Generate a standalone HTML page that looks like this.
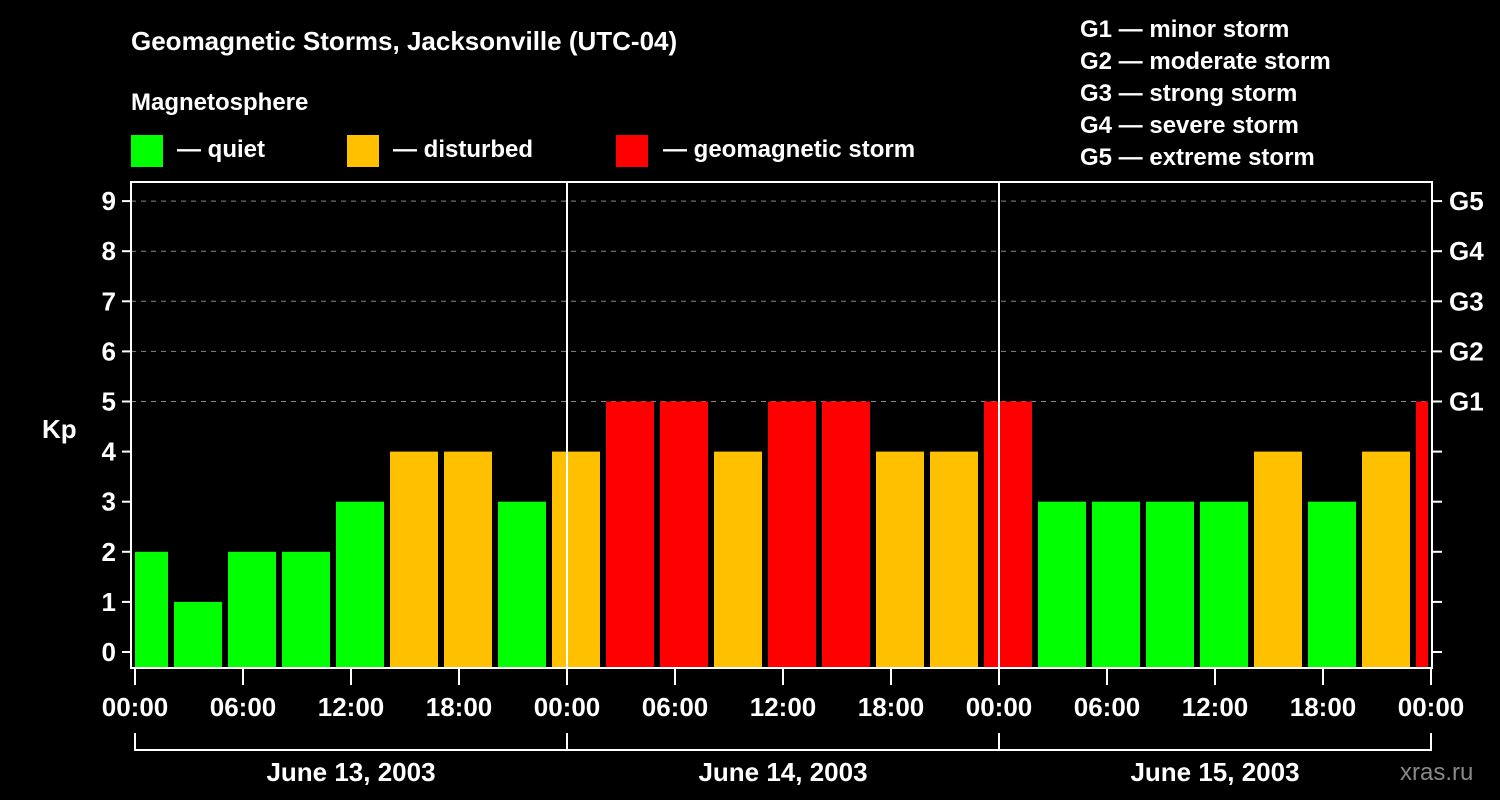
<!DOCTYPE html>
<html><head><meta charset="utf-8"><style>
html,body{margin:0;padding:0;background:#000;}
svg{display:block;font-family:"Liberation Sans",Arial,sans-serif;font-weight:bold;}
</style></head><body>
<svg width="1500" height="800" viewBox="0 0 1500 800">
<text x="131" y="50" fill="#fff" font-size="26">Geomagnetic Storms, Jacksonville (UTC-04)</text>
<text x="131" y="110" fill="#fff" font-size="24">Magnetosphere</text>
<g><rect x="131" y="135" width="32" height="32" fill="#00ff00"/><text x="177" y="157" fill="#fff" font-size="24">— quiet</text></g>
<g><rect x="347" y="135" width="32" height="32" fill="#ffc000"/><text x="393" y="157" fill="#fff" font-size="24">— disturbed</text></g>
<g><rect x="616" y="135" width="32" height="32" fill="#ff0000"/><text x="663" y="157" fill="#fff" font-size="24">— geomagnetic storm</text></g>
<g fill="#fff" font-size="24">
<text x="1080" y="37">G1 — minor storm</text>
<text x="1080" y="69">G2 — moderate storm</text>
<text x="1080" y="101">G3 — strong storm</text>
<text x="1080" y="133">G4 — severe storm</text>
<text x="1080" y="165">G5 — extreme storm</text>
</g>
<text x="42" y="438" fill="#fff" font-size="26">Kp</text>
<text x="1400" y="780" fill="#888" font-size="24" font-weight="normal">xras.ru</text>
<g id="grid"></g>
<g id="bars"></g>
<g id="axes"></g>
</svg>
<script>
const kpValues=[2,1,2,2,3,4,4,3,4,5,5,4,5,5,4,4,5,3,3,3,3,4,3,4,5];
const startHour=-1; // first interval start (local hours from June 13 00:00)
const yTicks=[0,1,2,3,4,5,6,7,8,9];
const gLabels=["G1","G2","G3","G4","G5"];
const gLevels=[5,6,7,8,9];
const timeLabels=["00:00","06:00","12:00","18:00","00:00","06:00","12:00","18:00","00:00","06:00","12:00","18:00","00:00"];
const dayLabels=["June 13, 2003","June 14, 2003","June 15, 2003"];
const NS="http://www.w3.org/2000/svg";
const L=131,R=1432,T=182,B=668;
const xs=h=>135+18*h;
const ys=v=>652-50.1*v;
function mk(t,a,p){const e=document.createElementNS(NS,t);for(const k in a)e.setAttribute(k,a[k]);p.appendChild(e);return e;}
const grid=document.getElementById('grid'),bars=document.getElementById('bars'),axes=document.getElementById('axes');
yTicks.forEach(v=>{
 if(v>=5){const l=mk('line',{x1:L,x2:R,y1:ys(v),y2:ys(v),stroke:'#888','stroke-width':1,'stroke-dasharray':'5,5'},grid);
 }
 const t=mk('line',{x1:122,x2:L,y1:ys(v),y2:ys(v),stroke:'#fff','stroke-width':2},axes);
 
 const rt=mk('line',{x1:R,x2:1442,y1:ys(v),y2:ys(v),stroke:'#fff','stroke-width':2},axes);
 
 const tx=mk('text',{x:116,y:ys(v)+9,fill:'#fff','font-size':26,'text-anchor':'end'},axes);tx.textContent=v;
 
});
gLevels.forEach((v,i)=>{const tx=mk('text',{x:1449,y:ys(v)+9,fill:'#fff','font-size':26},axes);tx.textContent=gLabels[i];
 });
const col=v=>v>=5?'#ff0000':(v>=4?'#ffc000':'#00ff00');
kpValues.forEach((v,i)=>{
 let x0=xs(startHour+3*i)+3,x1=xs(startHour+3*i+3)-3;
 x0=Math.max(x0,L+4);x1=Math.min(x1,R-4);
 const r=mk('rect',{x:x0,y:ys(v),width:x1-x0,height:B-ys(v),fill:col(v)},bars);
 
});
[1,2].forEach(d=>{const l=mk('line',{x1:xs(24*d),x2:xs(24*d),y1:T,y2:B,stroke:'#fff','stroke-width':2},axes);
 });
const fr=mk('rect',{x:L,y:T,width:R-L,height:B-T,fill:'none',stroke:'#fff','stroke-width':2},axes);

timeLabels.forEach((s,i)=>{const x=xs(6*i);
 const t=mk('line',{x1:x,x2:x,y1:B,y2:685,stroke:'#fff','stroke-width':2},axes);
 
 const tx=mk('text',{x:x,y:716,fill:'#fff','font-size':26,'text-anchor':'middle'},axes);tx.textContent=s;
 });
const br=mk('path',{d:`M${xs(0)},733V750H${xs(72)}V733M${xs(24)},733V750M${xs(48)},733V750`,stroke:'#fff','stroke-width':2,fill:'none'},axes);

dayLabels.forEach((s,i)=>{const tx=mk('text',{x:xs(24*i+12),y:781,fill:'#fff','font-size':26,'text-anchor':'middle'},axes);tx.textContent=s;
 });
</script>
</body></html>
